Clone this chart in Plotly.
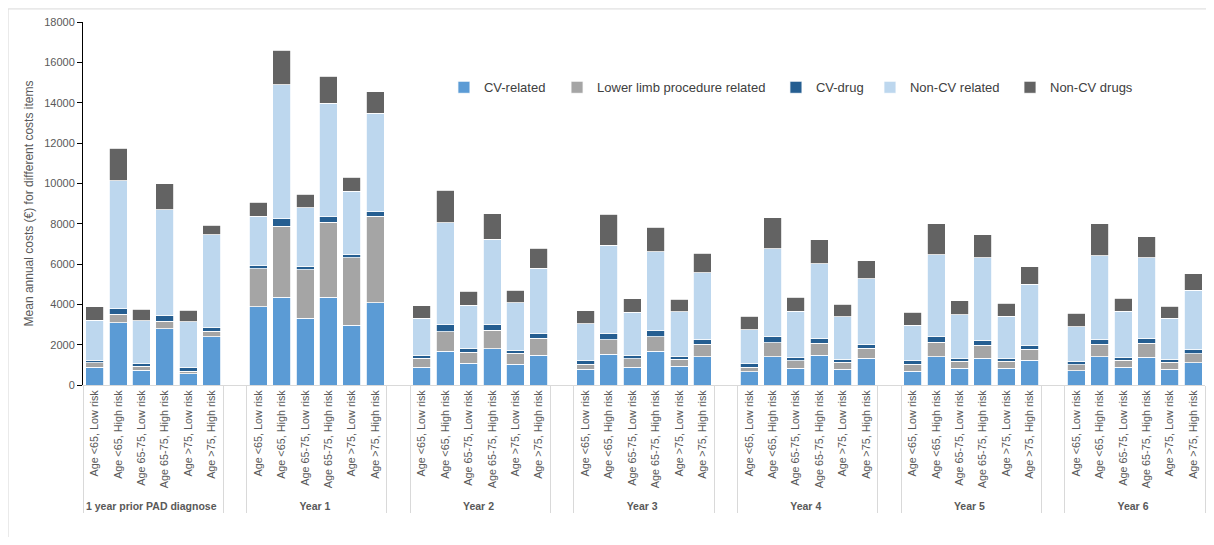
import plotly.graph_objects as go

groups = ["1 year prior PAD diagnose", "Year 1", "Year 2", "Year 3", "Year 4", "Year 5", "Year 6"]
subgroups = ["Age <65, Low risk", "Age <65, High risk", "Age 65-75, Low risk",
             "Age 65-75, High risk", "Age >75, Low risk", "Age >75, High risk"]

cv_related = [890, 3090, 740, 2790, 560, 2395,
              3880, 4355, 3300, 4355, 2970, 4080,
              890, 1685, 1075, 1800, 1025, 1485,
              775, 1520, 890, 1670, 925, 1405,
              645, 1405, 825, 1485, 775, 1320,
              680, 1405, 840, 1335, 825, 1220,
              695, 1405, 875, 1385, 775, 1110]
lower_limb = [220, 410, 185, 360, 130, 280,
              1895, 3515, 2410, 3710, 3350, 4285,
              430, 960, 560, 905, 560, 825,
              265, 730, 415, 725, 360, 625,
              230, 695, 380, 580, 360, 495,
              360, 725, 330, 630, 365, 560,
              315, 625, 360, 680, 360, 445]
cv_drug = [110, 280, 135, 300, 200, 200,
           150, 365, 180, 280, 135, 215,
           165, 345, 180, 310, 150, 235,
           170, 310, 165, 300, 135, 220,
           185, 310, 150, 250, 135, 200,
           170, 280, 150, 260, 135, 185,
           165, 220, 150, 245, 135, 200]
non_cv_related = [1980, 6350, 2130, 5250, 2250, 4570,
                  2440, 6650, 2890, 5630, 3150, 4900,
                  1815, 5060, 2145, 4210, 2345, 3245,
                  1830, 4370, 2130, 3910, 2210, 3315,
                  1685, 4355, 2305, 3710, 2115, 3265,
                  1745, 4060, 2165, 4080, 2095, 3020,
                  1715, 4155, 2260, 3995, 2030, 2950]
non_cv_drugs = [680, 1620, 575, 1270, 570, 475,
                690, 1715, 690, 1335, 690, 1055,
                630, 1600, 680, 1270, 625, 990,
                640, 1535, 680, 1215, 625, 970,
                655, 1520, 690, 1190, 625, 875,
                660, 1520, 690, 1140, 640, 875,
                675, 1585, 660, 1055, 610, 810]

series_names = ["CV-related", "Lower limb procedure related", "CV-drug",
                "Non-CV related", "Non-CV drugs"]
series_values = [cv_related, lower_limb, cv_drug, non_cv_related, non_cv_drugs]
series_colors = ["#5B9BD5", "#A5A5A5", "#255E91", "#BDD7EE", "#636363"]
legend_x = [0.3217, 0.4225, 0.6176, 0.7014, 0.8262]

# build multicategory x with a blank slot between groups
xa, xb, idx = [], [], []
for gi, g in enumerate(groups):
    if gi > 0:
        xa.append(" " * gi)
        xb.append(" ")
        idx.append(None)
    for si, s in enumerate(subgroups):
        xa.append('<span style="font-size:10.5px"><b>' + g + "</b></span>")
        xb.append(s)
        idx.append(gi * len(subgroups) + si)

font_main = "Liberation Sans"
fig = go.Figure()
legend_layouts = {}
for k, (name, vals, col) in enumerate(zip(series_names, series_values, series_colors)):
    y = [vals[i] if i is not None else None for i in idx]
    lg = "legend" if k == 0 else f"legend{k + 1}"
    fig.add_trace(go.Bar(x=[xa, xb], y=y, name=name, legend=lg, showlegend=True,
                         marker=dict(color=col, line=dict(color="white", width=0.8))))
    legend_layouts[lg] = dict(orientation="h", x=legend_x[k], y=0.82,
                              xanchor="left", yanchor="middle",
                              font=dict(size=13, color="#404040", family=font_main),
                              bgcolor="rgba(0,0,0,0)")

fig.update_layout(
    barmode="stack",
    bargap=0.23,
    showlegend=True,
    width=1198, height=529,
    margin=dict(l=75, r=1, t=14, b=152, autoexpand=False),
    paper_bgcolor="white", plot_bgcolor="white",
    font=dict(family=font_main, color="#595959"),
    xaxis=dict(type="multicategory", showline=True, linecolor="#d9d9d9", linewidth=1,
               showdividers=True, dividercolor="#d9d9d9", dividerwidth=1,
               tickangle=-90, ticks="", showgrid=False,
               tickfont=dict(size=10.8, color="#595959", family=font_main)),
    yaxis=dict(range=[0, 18000], dtick=2000, tickformat="d", showgrid=False,
               showline=True, linecolor="black", linewidth=1,
               ticks="outside", ticklen=5, tickcolor="black",
               tickfont=dict(size=11, color="#595959", family=font_main),
               title=dict(text="Mean annual costs (€) for different costs items",
                          font=dict(size=12, color="#595959", family=font_main),
                          standoff=8)),
    shapes=[dict(type="rect", xref="paper", yref="paper",
                 x0=-0.0668, x1=1.02, y0=-0.46, y1=1.036,
                 line=dict(color="#d9d9d9", width=1), fillcolor="rgba(0,0,0,0)", layer="below")],
    **legend_layouts,
)

fig.write_html("out.html")
